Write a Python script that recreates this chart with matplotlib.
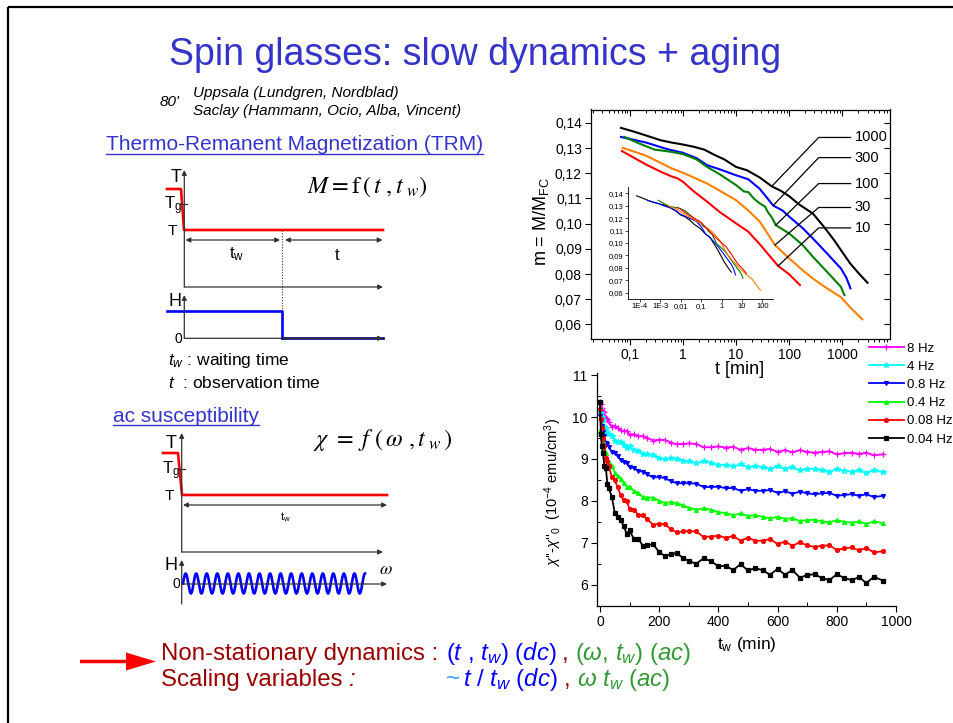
import numpy as np
import matplotlib
matplotlib.use('Agg')
import matplotlib.pyplot as plt
from matplotlib.patches import FancyArrow
from matplotlib.ticker import FixedLocator, FixedFormatter, LogLocator, NullFormatter, MultipleLocator

plt.rcParams['font.family'] = ['Liberation Sans', 'DejaVu Sans']
plt.rcParams['mathtext.fontset'] = 'custom'
plt.rcParams['mathtext.rm'] = 'Liberation Sans'
plt.rcParams['mathtext.it'] = 'Liberation Sans:italic'
plt.rcParams['mathtext.bf'] = 'Liberation Sans:bold'

W, H = 954, 723

# ---- TRM relaxation, CdCr1.7In0.3S4, T = 12 K (t in min, m = M/M_FC)
tw_list = [1000, 300, 100, 30, 10]
trm_colors = ['black', '#0000FF', '#008000', '#FF8000', '#FF0000']
t_1000 = [0.068, 0.12, 0.2, 0.38, 0.6, 1, 1.6, 2.5, 4, 6, 10, 16, 28, 47, 70, 100, 150, 280,
          450, 700, 946, 1400, 2000, 3000]
m_1000 = [0.138, 0.1365, 0.135, 0.1331, 0.1322, 0.1314, 0.1305, 0.1294, 0.1272, 0.1255, 0.1225,
          0.1212, 0.1183, 0.1148, 0.113, 0.1109, 0.1078, 0.104, 0.0988, 0.0935, 0.0895, 0.0843,
          0.0805, 0.0765]
t_300 = [0.068, 0.2, 0.5, 1, 1.8, 2.85, 5, 10, 17, 28, 50, 75, 100, 180, 281, 500, 946, 1200, 1430]
m_300 = [0.1344, 0.1322, 0.1296, 0.1281, 0.126, 0.1232, 0.1215, 0.1192, 0.1176, 0.1138, 0.1072,
         0.1052, 0.1028, 0.0982, 0.0941, 0.0885, 0.0822, 0.0785, 0.0743]
t_100 = [0.079, 0.15, 0.29, 0.6, 1, 1.8, 2.85, 5, 10, 14, 17, 22, 28, 35, 40, 48, 56, 100, 180,
         281, 500, 946, 1100]
m_100 = [0.1344, 0.1318, 0.1294, 0.1285, 0.1276, 0.1255, 0.1225, 0.1195, 0.1153, 0.1128, 0.1125,
         0.1098, 0.108, 0.1068, 0.1045, 0.1022, 0.0994, 0.0961, 0.0915, 0.0868, 0.0812, 0.0749,
         0.0716]
t_30 = [0.073, 0.2, 0.38, 0.6, 1, 1.8, 2.85, 5, 10, 17, 28, 54, 100, 180, 280, 500, 946, 1500, 2400]
m_30 = [0.1301, 0.127, 0.1241, 0.122, 0.1202, 0.1178, 0.1159, 0.113, 0.1093, 0.1052, 0.1008,
        0.0915, 0.0862, 0.0815, 0.0782, 0.0745, 0.0708, 0.0662, 0.062]
t_10 = [0.071, 0.2, 0.38, 0.6, 0.8, 1, 1.6, 2.85, 5, 10, 17, 28, 62, 100, 160]
m_10 = [0.1288, 0.1235, 0.1206, 0.1188, 0.1179, 0.1166, 0.1128, 0.1087, 0.1045, 0.1001, 0.0968,
        0.0918, 0.0832, 0.0799, 0.0756]
trm_t = [t_1000, t_300, t_100, t_30, t_10]
trm_m = [m_1000, m_300, m_100, m_30, m_10]

# leader lines from the tw labels to the curves
lead_label_m = [0.1342, 0.1262, 0.1159, 0.1064, 0.0983]
lead_end_t = [47, 50, 56, 54, 62]
lead_end_m = [0.1148, 0.1072, 0.0994, 0.0915, 0.0832]

# ---- ac susceptibility chi'' - chi''_0 vs tw (min)
tw_ac = [0, 3, 6, 10, 15, 20, 25, 30, 40, 50, 60, 70, 80, 90, 100, 115, 130, 145, 160, 180,
         200, 220, 240, 260, 280, 300, 325, 350, 375, 400, 425, 450, 475, 500, 525, 550, 575,
         600, 625, 650, 675, 700, 725, 750, 775, 800, 825, 850, 875, 900, 925, 955]
freq_labels = ['8 Hz', '4 Hz', '0.8 Hz', '0.4 Hz', '0.08 Hz', '0.04 Hz']
chi_8 = [10.35, 10.3, 10.22, 10.15, 10.11, 9.97, 9.95, 9.87, 9.77, 9.79, 9.74, 9.68, 9.67, 9.67,
         9.58, 9.59, 9.54, 9.55, 9.5, 9.44, 9.46, 9.45, 9.39, 9.35, 9.36, 9.37, 9.36, 9.28, 9.28,
         9.3, 9.27, 9.29, 9.22, 9.26, 9.22, 9.22, 9.24, 9.17, 9.21, 9.16, 9.21, 9.17, 9.15, 9.17,
         9.18, 9.11, 9.14, 9.15, 9.12, 9.15, 9.09, 9.11]
chi_4 = [10.2, 10.1, 10.0, 9.92, 9.77, 9.75, 9.64, 9.59, 9.55, 9.44, 9.41, 9.4, 9.34, 9.27, 9.3,
         9.21, 9.2, 9.11, 9.11, 9.1, 9.03, 8.99, 9.02, 9.01, 8.96, 8.94, 8.9, 8.94, 8.91, 8.86,
         8.86, 8.82, 8.87, 8.81, 8.83, 8.8, 8.77, 8.82, 8.77, 8.8, 8.73, 8.76, 8.77, 8.73, 8.7,
         8.76, 8.72, 8.7, 8.73, 8.67, 8.73, 8.69]
chi_08 = [10.03, 9.9, 9.78, 9.65, 9.55, 9.39, 9.36, 9.29, 9.17, 9.14, 9.06, 8.97, 8.93, 8.91,
          8.8, 8.79, 8.71, 8.7, 8.63, 8.56, 8.57, 8.54, 8.47, 8.42, 8.42, 8.42, 8.41, 8.33, 8.33,
          8.34, 8.3, 8.31, 8.24, 8.28, 8.24, 8.24, 8.26, 8.19, 8.23, 8.17, 8.22, 8.18, 8.16, 8.18,
          8.19, 8.12, 8.14, 8.16, 8.12, 8.16, 8.09, 8.12]
chi_04 = [9.67, 9.6, 9.52, 9.44, 9.24, 9.15, 9.01, 8.93, 8.83, 8.67, 8.59, 8.53, 8.43, 8.34,
          8.34, 8.23, 8.19, 8.09, 8.08, 8.08, 8.0, 7.95, 7.97, 7.95, 7.89, 7.84, 7.79, 7.82, 7.79,
          7.73, 7.71, 7.66, 7.7, 7.64, 7.66, 7.62, 7.58, 7.62, 7.57, 7.59, 7.52, 7.54, 7.55, 7.51,
          7.49, 7.54, 7.5, 7.48, 7.51, 7.45, 7.51, 7.47]
chi_008 = [10.19, 9.95, 9.75, 9.5, 9.32, 9.02, 8.96, 8.82, 8.57, 8.49, 8.32, 8.13, 8.02, 7.99,
           7.81, 7.79, 7.66, 7.67, 7.56, 7.43, 7.46, 7.44, 7.32, 7.25, 7.27, 7.28, 7.27, 7.14,
           7.15, 7.17, 7.12, 7.16, 7.05, 7.12, 7.05, 7.05, 7.09, 6.97, 7.03, 6.93, 7.01, 6.94,
           6.9, 6.93, 6.94, 6.83, 6.87, 6.89, 6.82, 6.88, 6.77, 6.8]
chi_004 = [10.35, 9.6, 9.3, 9.14, 8.84, 8.78, 8.41, 8.3, 8.1, 7.72, 7.61, 7.54, 7.4, 7.22, 7.3,
           7.08, 7.1, 6.92, 6.95, 6.96, 6.78, 6.68, 6.74, 6.75, 6.64, 6.57, 6.5, 6.63, 6.56, 6.44,
           6.45, 6.35, 6.49, 6.34, 6.4, 6.34, 6.24, 6.38, 6.24, 6.35, 6.17, 6.23, 6.25, 6.16,
           6.11, 6.25, 6.16, 6.11, 6.18, 6.04, 6.19, 6.1]
chi_series = [chi_8, chi_4, chi_08, chi_04, chi_008, chi_004]
chi_colors = ['#FF00FF', '#00FFFF', '#0000FF', '#00FF00', '#FF0000', 'black']
chi_markers = ['+', '*', 'v', '^', 'o', 's']

# ---- protocol sketches (slide pixel coordinates)
trm_temp_x = [167, 181, 184, 383]
trm_temp_y = [189, 189, 230, 230]
trm_field_x = [167, 282, 282]
trm_field_y = [311, 311, 338]
ac_temp_x = [163, 178, 182, 387]
ac_temp_y = [453, 453, 495, 495]

TITLE_BLUE = '#3434C8'
DARK_RED = '#990000'


def fbox(x0, y0, x1, y1):
    return [x0 / W, 1 - y1 / H, (x1 - x0) / W, (y1 - y0) / H]


fig = plt.figure(figsize=(W / 100, H / 100), dpi=100)
fig.patch.set_facecolor('white')

# full-slide layer in pixels for sketches and text
sk = fig.add_axes([0, 0, 1, 1])
sk.set_xlim(0, W)
sk.set_ylim(H, 0)
sk.axis('off')

# slide frame
sk.plot([8.3, 8.3], [7, H], color='black', lw=1.6, solid_capstyle='butt')
sk.plot([8.3, W], [7, 7], color='black', lw=1.6, solid_capstyle='butt')

sk.text(475, 55, 'Spin glasses: slow dynamics + aging', color=TITLE_BLUE, fontsize=27,
        ha='center', va='center')
sk.text(160, 102, "80'", fontsize=11, style='italic', va='center')
sk.text(193, 93, 'Uppsala (Lundgren, Nordblad)', fontsize=11, style='italic', va='center')
sk.text(193, 111, 'Saclay (Hammann, Ocio, Alba, Vincent)', fontsize=11, style='italic', va='center')

t_trm = sk.text(106, 145, 'Thermo-Remanent Magnetization (TRM)', fontsize=15, color=TITLE_BLUE,
                va='center')
t_ac = sk.text(113, 416, 'ac susceptibility', fontsize=15, color=TITLE_BLUE, va='center')

axis_kw = dict(arrowstyle='-|>', color='#333333', lw=0.9, mutation_scale=7, shrinkA=0, shrinkB=0)
span_kw = dict(arrowstyle='<|-|>', color='#333333', lw=0.9, mutation_scale=7, shrinkA=0, shrinkB=0)


def arrow(x0, y0, x1, y1, kw):
    sk.annotate('', xy=(x1, y1), xytext=(x0, y0), arrowprops=kw)


# TRM protocol
arrow(184.3, 287, 184.3, 170, axis_kw)
arrow(184.3, 287, 383, 287, axis_kw)
sk.plot(trm_temp_x, trm_temp_y, color='#FF0000', lw=1.9)
sk.plot([181.5, 187.5], [204.3, 204.3], color='#333333', lw=0.9)
sk.text(176, 177, 'T', fontsize=13, ha='center', va='center')
sk.text(182, 206, r'T$_\mathregular{g}$', fontsize=12, ha='right', va='center')
sk.text(172, 231, 'T', fontsize=11, ha='center', va='center')
arrow(185.5, 240, 280, 240, span_kw)
arrow(285, 240, 382.5, 240, span_kw)
sk.text(237, 254, r't$_\mathregular{w}$', fontsize=12, ha='center', va='center')
sk.text(337, 256, 't', fontsize=12, ha='center', va='center')
sk.plot([281.7, 281.7], [230, 338], color='#333333', lw=0.8, ls=(0, (1, 1.5)))
arrow(184.3, 338.3, 184.3, 295, axis_kw)
arrow(184.3, 338.3, 383, 338.3, axis_kw)
sk.plot(trm_field_x, trm_field_y, color='#0000FF', lw=1.9)
sk.plot([282, 383], [338.3, 338.3], color='#000080', lw=1.9)
sk.text(175, 301, 'H', fontsize=13, ha='center', va='center')
sk.text(178, 339, '0', fontsize=10, ha='center', va='center')
sk.text(307, 187, r'$M=\mathrm{f}\,(\,t\ ,t_{\ w})$', fontsize=17.5, va='center',
        math_fontfamily='stix')
sk.text(168, 360, r'$t_w$ : waiting time', fontsize=12.5, va='center')
sk.text(168, 383, r'$t$  : observation time', fontsize=12.5, va='center')

# ac protocol
arrow(181.7, 552, 181.7, 433, axis_kw)
arrow(181.7, 552, 383, 552, axis_kw)
sk.plot(ac_temp_x, ac_temp_y, color='#FF0000', lw=1.9)
sk.plot([179, 185], [469.3, 469.3], color='#333333', lw=0.9)
sk.text(171, 443, 'T', fontsize=13, ha='center', va='center')
sk.text(180, 471, r'T$_\mathregular{g}$', fontsize=12, ha='right', va='center')
sk.text(169, 496, 'T', fontsize=11, ha='center', va='center')
arrow(183, 505, 387, 505, span_kw)
sk.text(285, 517, r't$_\mathregular{w}$', fontsize=8, ha='center', va='center')
arrow(181.7, 604, 181.7, 560, axis_kw)
arrow(181.7, 584, 387, 584, axis_kw)
wave_x = np.linspace(183, 365, 500)
wave_y = 583.5 - 10 * np.sin(2 * np.pi * 17.25 * (wave_x - 183) / (365 - 183))
sk.plot(wave_x, wave_y, color='#0000FF', lw=1.9)
sk.text(171, 565, 'H', fontsize=13, ha='center', va='center')
sk.text(176, 584, '0', fontsize=10, ha='center', va='center')
sk.text(386, 570, r'$\omega$', fontsize=13, ha='center', va='center', math_fontfamily='stix')
sk.text(313, 440, r'$\chi\ =\ f\ (\,\omega\ ,t_{\ w}\,)$', fontsize=17.5, va='center',
        math_fontfamily='stix')

# conclusions
sk.add_patch(FancyArrow(80, 661.5, 76, 0, width=3.5, head_width=18, head_length=30,
                        length_includes_head=True, color='#FF0000', lw=0))
fs = 17.3
sk.text(161, 660, 'Non-stationary dynamics : ', fontsize=fs, color=DARK_RED, va='baseline')
sk.text(446, 660, r'($t$ , $t_w$) ($dc$)', fontsize=fs, color='#0000FF', va='baseline')
sk.text(562, 660, ',', fontsize=fs, color=DARK_RED, va='baseline')
sk.text(575, 660, r'($\omega$, $t_w$) ($ac$)', fontsize=fs, color='#339933', va='baseline')
sk.text(161, 686, 'Scaling variables ', fontsize=fs, color=DARK_RED, va='baseline')
sk.text(348, 686, ':', fontsize=fs, color=DARK_RED, va='baseline', style='italic')
sk.text(446, 686, '~', fontsize=fs, color='#3399FF', va='baseline')
sk.text(463, 686, r'$t$ / $t_w$ ($dc$)', fontsize=fs, color='#0000FF', va='baseline')
sk.text(564, 686, ',', fontsize=fs, color=DARK_RED, va='baseline')
sk.text(577, 686, r'$\omega$ $t_w$ ($ac$)', fontsize=fs, color='#339933', va='baseline')

# ---- TRM main panel
ax1 = fig.add_axes(fbox(591, 109.5, 890, 338.5))
for t, m, c in zip(trm_t, trm_m, trm_colors):
    ax1.plot(t, m, color=c, lw=1.5)
ax1.set_xscale('log')
ax1.set_xlim(0.0185, 7950)
ax1.set_ylim(0.0544, 0.1453)
ax1.xaxis.set_major_locator(FixedLocator([0.1, 1, 10, 100, 1000]))
ax1.xaxis.set_major_formatter(FixedFormatter(['0,1', '1', '10', '100', '1000']))
ax1.xaxis.set_minor_locator(LogLocator(base=10, subs=np.arange(2, 10)))
ax1.xaxis.set_minor_formatter(NullFormatter())
yt = [0.06, 0.07, 0.08, 0.09, 0.10, 0.11, 0.12, 0.13, 0.14]
ax1.yaxis.set_major_locator(FixedLocator(yt))
ax1.yaxis.set_major_formatter(FixedFormatter([('%.2f' % v).replace('.', ',') for v in yt]))
ax1.tick_params(which='major', direction='out', length=4.5, width=0.8, labelsize=10, pad=2)
ax1.tick_params(which='minor', direction='out', length=2.5, width=0.7)
for s in ax1.spines.values():
    s.set_linewidth(0.9)

# inward ticks on top and right
ax1b = fig.add_axes(fbox(591, 109.5, 890, 338.5), sharex=ax1, sharey=ax1)
ax1b.patch.set_visible(False)
for s in ax1b.spines.values():
    s.set_visible(False)
ax1b.tick_params(which='both', direction='in', bottom=False, left=False, top=True, right=True,
                 labelbottom=False, labelleft=False)
ax1b.tick_params(which='major', length=4, width=0.8)
ax1b.tick_params(which='minor', length=2.2, width=0.7)

for lm, et, em in zip(lead_label_m, lead_end_t, lead_end_m):
    ax1.plot([et, 360, 1440], [em, lm, lm], color='black', lw=0.9)
for lab, lm in zip(tw_list, lead_label_m):
    ax1.text(10 ** ((854 - 682) / 53.2), lm, str(lab), fontsize=10.5, va='center', ha='left')
sk.text(887, 122, r't$_\mathregular{w}$ [min]', fontsize=10, ha='right', va='center')
sk.text(725, 132, r'CdCr$_{1.7}$In$_{0.3}$S$_4$', fontsize=12.5, ha='center', va='center')
sk.text(740, 322, r'T = 12 K = 0.7 T$_\mathregular{g}$', fontsize=11, ha='left', va='center')
sk.text(541, 222, r'm = M/M$_\mathregular{FC}$', fontsize=13, rotation=90, ha='center', va='center')
sk.text(740, 370, 't [min]', fontsize=13, ha='center', va='center')

# scaled inset
axi = fig.add_axes(fbox(628, 187, 773, 299))
axi.patch.set_visible(False)
for tw, t, m, c in zip(tw_list, trm_t, trm_m, trm_colors):
    axi.plot(np.array(t) / tw, m, color=c, lw=0.8)
axi.set_xscale('log')
axi.set_xlim(2.6e-5, 330)
axi.set_ylim(0.0549, 0.1451)
axi.spines['top'].set_visible(False)
axi.spines['right'].set_visible(False)
for s in ['left', 'bottom']:
    axi.spines[s].set_linewidth(0.6)
axi.xaxis.set_major_locator(FixedLocator([1e-4, 1e-3, 1e-2, 0.1, 1, 10, 100]))
axi.xaxis.set_major_formatter(FixedFormatter(['1E-4', '1E-3', '0,01', '0,1', '1', '10', '100']))
axi.xaxis.set_minor_locator(LogLocator(base=10, subs=np.arange(2, 10)))
axi.xaxis.set_minor_formatter(NullFormatter())
axi.yaxis.set_major_locator(FixedLocator(yt))
axi.yaxis.set_major_formatter(FixedFormatter([('%.2f' % v).replace('.', ',') for v in yt]))
axi.tick_params(which='major', direction='out', length=2, width=0.5, labelsize=5.5, pad=1.2)
axi.tick_params(which='minor', direction='out', length=1.2, width=0.4)
sk.text(603, 240, r'm = M/M$_\mathregular{FC}$', fontsize=5, rotation=90, ha='center', va='center')
sk.text(701, 316, r't/t$_\mathregular{w}$', fontsize=5.5, ha='center', va='center')

# ---- ac aging panel
ax2 = fig.add_axes(fbox(596.7, 373, 896, 605.7))
ax2.patch.set_visible(False)
handles = []
for y, c, mk, lab in zip(chi_series, chi_colors, chi_markers, freq_labels):
    ms = 4 if mk in ('+', '*') else 2.8
    ln, = ax2.plot(tw_ac, y, color=c, lw=1.3, marker=mk, ms=ms, mew=0.9, label=lab)
    handles.append(ln)
ax2.set_xlim(-11, 1000)
ax2.set_ylim(5.5, 11.05)
ax2.spines['top'].set_visible(False)
ax2.spines['right'].set_visible(False)
for s in ['left', 'bottom']:
    ax2.spines[s].set_linewidth(0.9)
ax2.xaxis.set_major_locator(MultipleLocator(200))
ax2.xaxis.set_minor_locator(MultipleLocator(100))
ax2.yaxis.set_major_locator(MultipleLocator(1))
ax2.yaxis.set_minor_locator(MultipleLocator(0.5))
ax2.tick_params(which='major', direction='out', length=4, width=0.8, labelsize=10, pad=2.5)
ax2.tick_params(which='minor', direction='in', length=3, width=0.7)
sk.text(553, 492, r"$\chi$''-$\chi$''$_\mathregular{0}$  (10$^{-4}$ emu/cm$^3$)", fontsize=10.5,
        rotation=90, ha='center', va='center')
sk.text(747, 645, r't$_\mathregular{w}$ (min)', fontsize=12.5, ha='center', va='center')
ax2.legend(handles=handles, loc='upper left', bbox_to_anchor=(869 / W, 1 - 342.5 / H),
           bbox_transform=fig.transFigure, frameon=False, fontsize=9.5, numpoints=1,
           handlelength=2.65, handletextpad=0.25, labelspacing=0.45, borderpad=0, borderaxespad=0)

# underline the two section headings
fig.canvas.draw()
inv = sk.transData.inverted()
for txt, yu in [(t_trm, 154), (t_ac, 425)]:
    bb = txt.get_window_extent()
    (xa, _), (xb, _) = inv.transform([[bb.x0, bb.y0], [bb.x1, bb.y1]])
    sk.plot([xa, xb], [yu, yu], color=TITLE_BLUE, lw=1.0)

fig.savefig('out.png', dpi=100)
